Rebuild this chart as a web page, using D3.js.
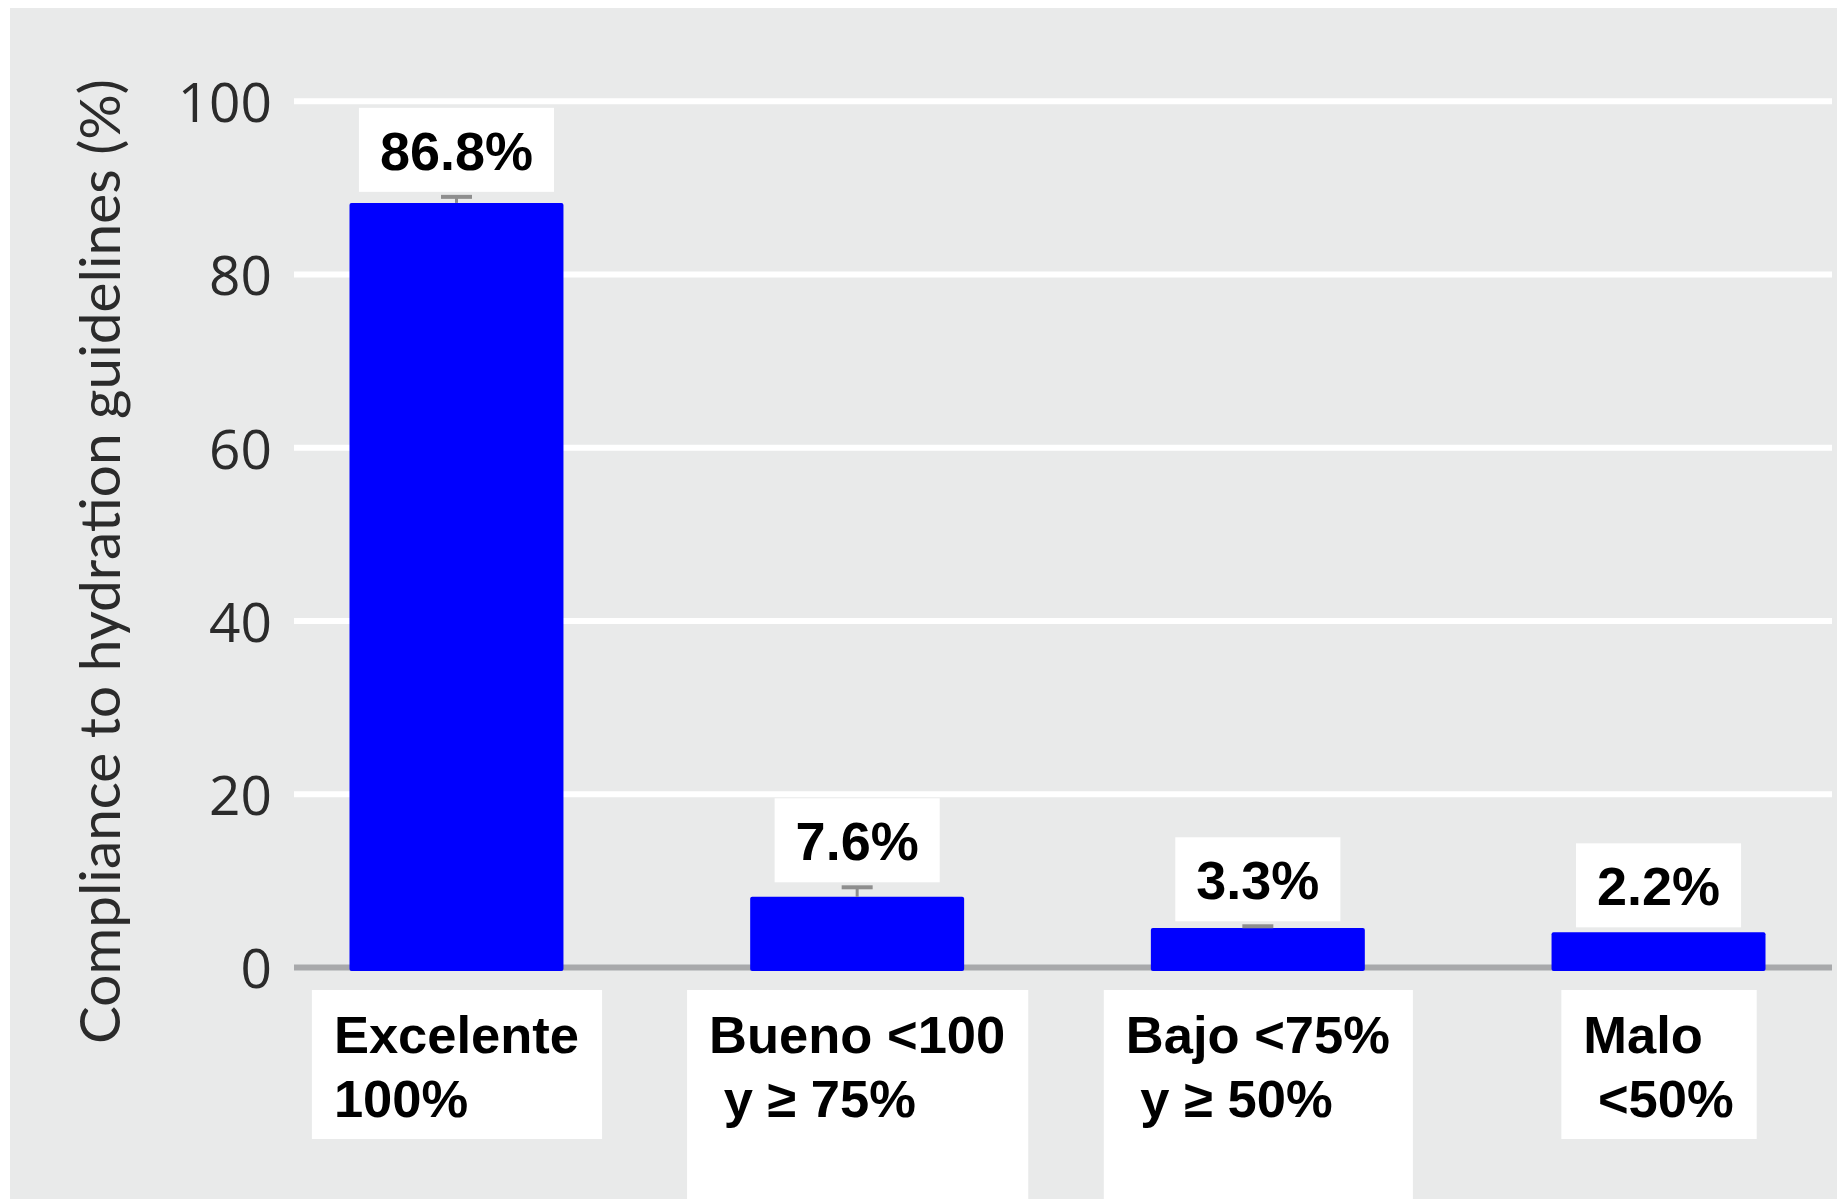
<!DOCTYPE html>
<html>
<head>
<meta charset="utf-8">
<script src="https://cdn.jsdelivr.net/npm/d3@7"></script>
<style>
  html, body { margin: 0; padding: 0; background: #ffffff; }
  svg { display: block; }
</style>
</head>
<body>
<svg id="chart" width="1837" height="1199"></svg>
<script>
// ---- data ----
const categories = ["Excelente", "Bueno", "Bajo", "Malo"];
const categoryLabels = [
  ["Excelente", "100%"],
  ["Bueno <100", " y \u2265 75%", "", ""],
  ["Bajo <75%", " y \u2265 50%", "", ""],
  ["Malo", " <50%"]
];
const barValues = [88.2, 8.1, 4.5, 4.0];
const errorUpper = [88.9, 9.2, 4.7, null];
const valueLabels = ["86.8%", "7.6%", "3.3%", "2.2%"];
const yTicks = [0, 20, 40, 60, 80, 100];
const yTitle = "Compliance to hydration guidelines (%)";

// ---- layout ----
const W = 1837, H = 1199;
const svg = d3.select("#chart");

svg.append("rect").attr("x", 10).attr("y", 8).attr("width", W - 10).attr("height", H - 8)
  .attr("fill", "#e9eaea");

const x = d3.scaleBand().domain(categories).range([294, 1821])
  .paddingInner(0.466).paddingOuter(0.1385);
const y = d3.scaleLinear().domain([0, 100]).range([967, 100.7]);
const gridX0 = 294, gridX1 = 1832;

// gridlines
const grid = svg.append("g").attr("transform", `translate(${gridX0},0)`)
  .call(d3.axisLeft(y).tickValues(yTicks).tickSize(-(gridX1 - gridX0)).tickFormat(""));
grid.select(".domain").remove();
grid.selectAll(".tick line")
  .attr("stroke", d => d === 0 ? "#a8a9ab" : "#ffffff")
  .attr("stroke-width", 6);

// tick labels
const axis = svg.append("g").attr("transform", `translate(${gridX0},0)`)
  .call(d3.axisLeft(y).tickValues(yTicks).tickSize(0).tickPadding(22));
axis.select(".domain").remove();
axis.selectAll(".tick text")
  .attr("font-family", "'Open Sans', 'Noto Sans', sans-serif")
  .attr("font-size", 55)
  .attr("fill", "#2b2b2b")
  .attr("dy", "0.38em");

// y title (font size fitted to the reference's span)
const title = svg.append("text")
  .attr("transform", `translate(120,561.5) rotate(-90)`)
  .attr("text-anchor", "middle")
  .attr("font-family", "Lato, 'Open Sans', sans-serif")
  .attr("font-size", 58)
  .attr("fill", "#2b2b2b")
  .text(yTitle);
const tl = title.node().getComputedTextLength();
title.attr("font-size", Math.min(62, 58 * 965 / tl));

// bars
svg.append("g").selectAll("rect").data(categories).join("rect")
  .attr("x", d => x(d))
  .attr("width", x.bandwidth())
  .attr("y", (d, i) => y(barValues[i]))
  .attr("height", (d, i) => y(0) + 4 - y(barValues[i]))
  .attr("rx", 2)
  .attr("fill", "#0000ff");

// error bars
const eg = svg.append("g").attr("stroke", "#8e8e8e");
categories.forEach((c, i) => {
  if (errorUpper[i] == null) return;
  const cx = x(c) + x.bandwidth() / 2;
  eg.append("line").attr("x1", cx).attr("x2", cx)
    .attr("y1", y(barValues[i])).attr("y2", y(errorUpper[i])).attr("stroke-width", 3);
  eg.append("line").attr("x1", cx - 15.5).attr("x2", cx + 15.5)
    .attr("y1", y(errorUpper[i])).attr("y2", y(errorUpper[i])).attr("stroke-width", 4);
});

// value labels in white boxes
categories.forEach((c, i) => {
  const cx = x(c) + x.bandwidth() / 2;
  const topVal = errorUpper[i] != null ? Math.max(errorUpper[i], barValues[i]) : barValues[i];
  const boxBottom = y(topVal) - 5;
  const g = svg.append("g");
  const box = g.append("rect").attr("fill", "#ffffff");
  const t = g.append("text")
    .attr("x", cx).attr("y", boxBottom - 22)
    .attr("text-anchor", "middle")
    .attr("font-family", "'Liberation Sans', Arial, sans-serif")
    .attr("font-weight", "bold")
    .attr("font-size", 54)
    .attr("fill", "#000000")
    .text(valueLabels[i]);
  const tw = t.node().getComputedTextLength();
  box.attr("x", cx - tw / 2 - 21).attr("width", tw + 42)
    .attr("y", boxBottom - 84).attr("height", 84);
});

// category labels in white boxes
const catTop = y(0) + 23;
const lineH = 64;
categories.forEach((c, i) => {
  const cx = x(c) + x.bandwidth() / 2;
  const lines = categoryLabels[i];
  const g = svg.append("g");
  const box = g.append("rect").attr("fill", "#ffffff");
  const t = g.append("text")
    .attr("font-family", "'Liberation Sans', Arial, sans-serif")
    .attr("font-weight", "bold")
    .attr("font-size", 52.5)
    .attr("fill", "#000000")
    .style("white-space", "pre");
  const spans = lines.map((ln, k) => t.append("tspan")
    .attr("y", catTop + 62.7 + k * lineH)
    .text(ln));
  let w = 0;
  spans.forEach(s => { w = Math.max(w, s.node().getComputedTextLength()); });
  const left = cx - w / 2;
  spans.forEach(s => s.attr("x", left));
  box.attr("x", left - 22).attr("width", w + 45)
    .attr("y", catTop).attr("height", Math.min(lines.length * lineH + 21, H - catTop));
});
</script>
</body>
</html>
